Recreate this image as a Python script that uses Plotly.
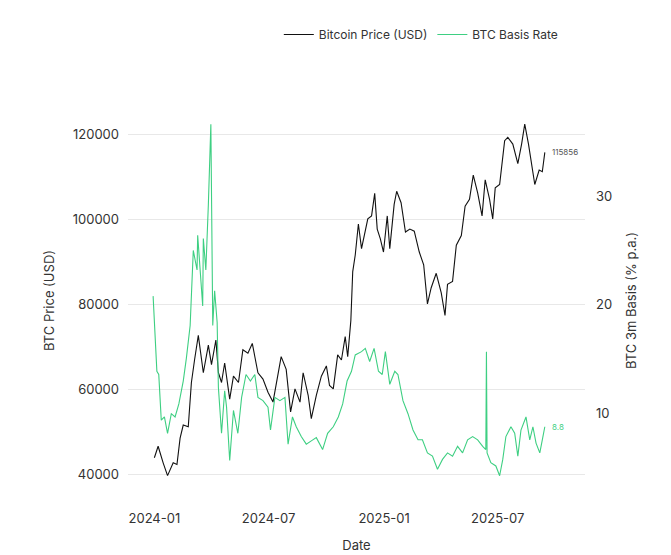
import plotly.graph_objects as go

price_dates = ["2024-01-01","2024-01-07","2024-01-15","2024-01-22","2024-01-31","2024-02-06","2024-02-11","2024-02-16","2024-02-24","2024-02-29",
"2024-03-05","2024-03-11","2024-03-19","2024-03-27","2024-04-01","2024-04-08","2024-04-12","2024-04-17","2024-04-22","2024-04-30",
"2024-05-06","2024-05-14","2024-05-21","2024-05-29","2024-06-05","2024-06-14","2024-06-22","2024-06-30","2024-07-08","2024-07-14",
"2024-07-21","2024-07-29","2024-08-05","2024-08-12","2024-08-20","2024-08-25","2024-09-02","2024-09-07","2024-09-15","2024-09-23",
"2024-10-01","2024-10-06","2024-10-12","2024-10-19","2024-10-25","2024-10-31","2024-11-04","2024-11-09","2024-11-12","2024-11-16",
"2024-11-21","2024-11-26","2024-12-01","2024-12-06","2024-12-12","2024-12-17","2024-12-21","2024-12-26","2024-12-31","2025-01-06",
"2025-01-10","2025-01-17","2025-01-21","2025-01-28","2025-02-04","2025-02-11","2025-02-18","2025-02-26","2025-03-05","2025-03-11",
"2025-03-17","2025-03-25","2025-04-02","2025-04-08","2025-04-12","2025-04-20","2025-04-26","2025-05-04","2025-05-10","2025-05-17",
"2025-05-23","2025-05-30","2025-06-06","2025-06-11","2025-06-18","2025-06-23","2025-06-27","2025-07-04","2025-07-12","2025-07-17",
"2025-07-25","2025-08-02","2025-08-08","2025-08-13","2025-08-19","2025-08-23","2025-08-29","2025-09-05","2025-09-10","2025-09-14"]
btc_price = [44000,46700,42800,39800,42800,42400,48600,51700,51300,61700,
67000,72800,64000,70500,65900,71700,64000,61700,66300,57800,
63200,61700,69400,68600,70900,64000,62500,59400,57100,62500,
67800,64800,54800,60200,57100,64000,58700,53200,58700,63200,
65600,61000,60200,68200,67000,72500,67800,76300,87800,91700,
99000,93200,97100,100200,100900,106200,97800,95500,92400,100900,
93200,103600,106700,104000,97100,97800,97300,92400,89400,80200,
84000,87400,82800,77500,84800,85500,94000,96300,103200,104800,
110500,106300,100900,109400,104800,100200,107500,108300,118600,119400,
117800,113200,117800,122500,117800,114000,108300,111700,111300,115856]

basis_dates = ["2023-12-30","2024-01-02","2024-01-05","2024-01-08","2024-01-12","2024-01-17","2024-01-22","2024-01-28","2024-02-03","2024-02-09",
"2024-02-16","2024-02-21","2024-02-27","2024-03-03","2024-03-09","2024-03-10","2024-03-14","2024-03-18","2024-03-19","2024-03-23",
"2024-03-27","2024-03-31","2024-04-03","2024-04-06","2024-04-10","2024-04-12","2024-04-17","2024-04-22","2024-04-25","2024-04-30",
"2024-05-06","2024-05-13","2024-05-19","2024-05-26","2024-06-02","2024-06-09","2024-06-14","2024-06-22","2024-06-30","2024-07-04",
"2024-07-11","2024-07-19","2024-07-27","2024-08-01","2024-08-08","2024-08-14","2024-08-22","2024-08-30","2024-09-07","2024-09-15",
"2024-09-25","2024-10-03","2024-10-12","2024-10-20","2024-10-27","2024-11-03","2024-11-10","2024-11-16","2024-11-26","2024-12-02",
"2024-12-09","2024-12-16","2024-12-23","2024-12-29","2025-01-03","2025-01-10","2025-01-18","2025-01-23","2025-01-31","2025-02-08",
"2025-02-16","2025-02-24","2025-03-03","2025-03-11","2025-03-19","2025-03-27","2025-04-04","2025-04-12","2025-04-20","2025-04-28",
"2025-05-06","2025-05-14","2025-05-22","2025-05-30","2025-06-07","2025-06-12","2025-06-13","2025-06-14","2025-06-20","2025-06-28",
"2025-07-04","2025-07-09","2025-07-14","2025-07-22","2025-07-28","2025-08-02","2025-08-07","2025-08-15","2025-08-21","2025-08-26",
"2025-08-31","2025-09-06","2025-09-10","2025-09-14"]
basis_rate = [20.8,16.6,13.9,13.6,9.4,9.7,8.2,10.0,9.7,10.9,
13.0,15.1,18.1,25.0,23.2,26.4,23.5,19.9,26.1,23.2,
29.2,36.6,18.1,21.3,18.4,12.4,8.2,12.1,10.6,5.7,
10.3,8.2,11.5,13.6,13.0,13.6,11.5,11.2,10.6,8.5,
11.5,11.2,11.5,7.2,9.7,8.8,7.9,7.2,7.5,7.8,
6.7,8.2,8.8,9.7,10.9,13.0,13.9,15.4,15.7,16.0,
14.8,16.0,13.9,13.6,15.7,12.7,13.9,13.6,11.2,10.0,
8.5,7.6,7.6,6.4,6.1,4.9,5.8,6.4,6.1,7.0,
6.4,7.6,7.9,7.6,7.0,6.7,15.7,6.4,5.5,5.2,
4.3,5.8,7.9,8.8,8.2,6.1,8.5,9.7,7.6,8.8,
7.3,6.4,7.6,8.8]

font = "Inter, Roboto, sans-serif"
fig = go.Figure()
fig.add_trace(go.Scatter(x=price_dates, y=btc_price, name="Bitcoin Price (USD)", mode="lines",
                         line=dict(color="#111111", width=1.1)))
fig.add_trace(go.Scatter(x=basis_dates, y=basis_rate, name="BTC Basis Rate", mode="lines", yaxis="y2",
                         line=dict(color="#3ecf82", width=1.1)))
fig.add_annotation(x=price_dates[-1], y=btc_price[-1], text=str(btc_price[-1]), showarrow=False,
                   xanchor="left", xshift=5, font=dict(size=8, color="#555", family=font))
fig.add_annotation(x=basis_dates[-1], y=basis_rate[-1], yref="y2", text=str(basis_rate[-1]), showarrow=False,
                   xanchor="left", xshift=5, font=dict(size=8, color="#3ecf82", family=font))
fig.update_layout(
    width=671, height=555, plot_bgcolor="white", paper_bgcolor="white",
    margin=dict(l=120, r=94, t=103, b=84),
    font=dict(family=font, size=13, color="#333"),
    legend=dict(orientation="h", x=0.33, y=1.245, yanchor="middle", font=dict(size=12)),
    xaxis=dict(title=dict(text="Date", font=dict(size=13)), showgrid=False, tickformat="%Y-%m",
               tickvals=["2024-01-01", "2024-07-01", "2025-01-01", "2025-07-01"],
               range=["2023-11-20", "2025-11-17"], ticks="", showline=False, zeroline=False,
               ticklabelstandoff=30),
    yaxis=dict(title=dict(text="BTC Price (USD)", font=dict(size=13)), range=[39000, 123000],
               tickvals=[40000, 60000, 80000, 100000, 120000], ticklabelstandoff=8,
               tickformat="d", gridcolor="#e8e8e8", zeroline=False, ticks=""),
    yaxis2=dict(title=dict(text="BTC 3m Basis (% p.a.)", font=dict(size=13)), overlaying="y", side="right",
                range=[4, 36.8], tickvals=[10, 20, 30], showgrid=False, zeroline=False, ticks="",
                ticklabelstandoff=10),
)
fig.write_html("out.html")
